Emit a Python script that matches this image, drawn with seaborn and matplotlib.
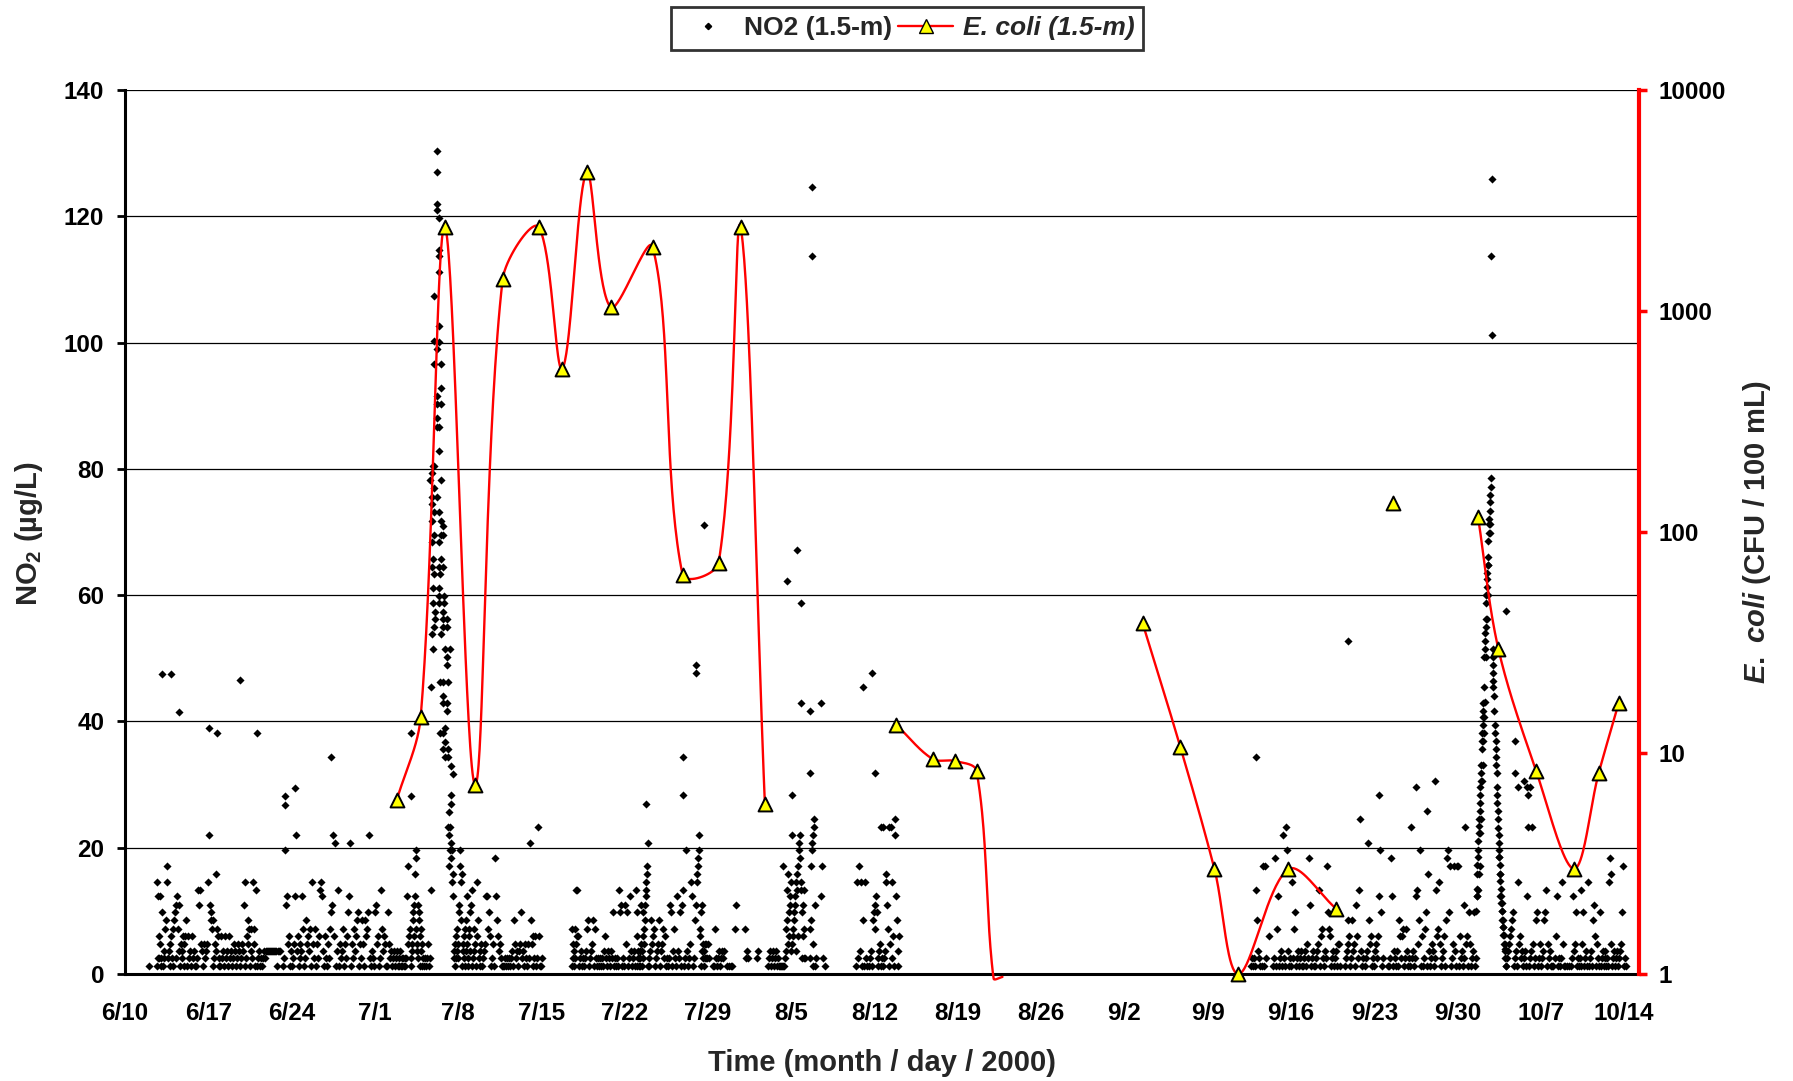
import numpy as np
import pandas as pd
import matplotlib
matplotlib.use("Agg")
import matplotlib.pyplot as plt
import seaborn as sns
from matplotlib.lines import Line2D
from matplotlib.ticker import FixedLocator, FixedFormatter, NullLocator

# ------------------------------------------------------------------ data
# x values are days after 6/10/2000
date_labels = ["6/10", "6/17", "6/24", "7/1", "7/8", "7/15", "7/22", "7/29", "8/5",
               "8/12", "8/19", "8/26", "9/2", "9/9", "9/16", "9/23", "9/30", "10/7", "10/14"]

# NO2 readings are quantised; each character of a day string is one reading (in time order,
# evenly spread over that day) given as an index into no2_levels; '.' = no reading
no2_levels = [1.2, 2.5, 3.7, 4.7, 6.0, 7.2, 8.5, 9.8, 11.0, 12.3,
              13.3, 14.6, 15.8, 17.1, 18.3, 19.6, 20.8, 22.0, 23.3, 24.5]
level_codes = "0123456789abcdefghij"

no2_daily = [
    "", "",
    "0...............b0914193",
    "01701256bd120341",
    "0567819528031240",
    "346041204120",
    "01a8a3203123",
    "bh867506132c5401",
    "041204120412",
    "013201320132",
    "8b0143650251b350",
    "a01201012122",
    "222222222022",
    "2..01f893402",
    "0139h2403129",
    "501634250b31",
    "50314ab92041",
    "031578h4g02a",
    "03125031479g",
    "031524670316",
    "306457h10210",
    "783401a52430",
    "073120120120",
    "012010101019d345",
    "012367849cef523816704523",
    "010101301a..",
    "",
    "....ihdfigefb9c120341523",
    "187fd6bc0234150269310452",
    "78a015230b461023",
    "012399574013",
    "0e9642310001",
    "010101206312",
    "023712031031",
    "g63401401i40",
    "01..........",
    "",
    ".............051320513a4",
    "a40120101256",
    "012360510101",
    "010241021021",
    "701010a78010",
    "83701920120a",
    "7041201201382074135689abcdg0",
    "012634501236",
    "023514010187",
    "02510921708a",
    "01f2013b9016",
    "8bcdehf45708231023131.1.",
    "31...0051012",
    "01212..0.0.0",
    "0..58.......",
    ".5121.......",
    ".12.........",
    ".01201201201",
    "0.0.0.0d0.0.1256ac34789b",
    "23h456789b2acd4fgehba718",
    "451a1...........156dfg03hij8",
    "01....9d1.0.",
    "", "",
    ".....0b1d2b0",
    "60b10.012067",
    "58970123i01i012b",
    "c85i03i1b40hj962",
    "04..........",
    "", "", "", "", "", "", "", "", "", "", "", "", "", "",
    "", "", "", "", "", "", "", "", "", "", "", "", "", "",
    "........0101",
    "0a6210.0d0d1",
    "..4...01e059",
    "0120h10if201",
    "0b1570120120",
    "012031e80120",
    "0123a0451021",
    "d75401201203",
    "30....012634",
    "016230841aj2",
    "01.012g63401",
    "023149f701..",
    "..001e902102",
    "064145015201",
    "0i12019a36f0",
    "401570c20132",
    "01a45b301240",
    "6ef7d013d20d",
    "d0412081i340",
    "730127019acd",
    "", "",
    ".01234567012",
    "0b341201209i",
    "012i30167013",
    "01267a031200",
    "0.1490101b30",
    "0.0.0.019237",
    "0101a0370120",
    "b01206840310",
    "7012012010bec3",
    "01201201237d",
    "010.........",
]

# individual NO2 readings (higher values / episode peaks)
no2_peak_day = [
    3.08, 3.85, 4.5, 9.7, 11.06, 7.03, 7.7, 13.45, 13.45, 14.29, 17.28, 24.03, 24.03,
    26.19, 26.19, 26.19, 26.19, 26.36, 26.36, 26.36, 26.36, 26.0, 26.36, 26.36, 26.0, 26.19, 26.0,
    26.55, 26.55, 26.19, 26.19, 26.55, 26.19, 26.19, 26.36, 26.36, 25.9, 26.0, 25.8, 25.63, 26.55,
    26.0, 25.8, 26.19, 25.8, 26.0, 26.36, 25.8, 26.55, 26.7, 26.0, 26.55, 26.7, 25.8, 26.36, 25.9,
    26.55, 25.8, 26.36, 26.7, 26.0, 26.47, 25.9, 26.36, 26.36, 26.8,
    25.86, 26.42, 26.81, 26.05, 26.75, 26.05, 26.75, 27.03, 26.0, 26.75, 27.03, 25.77, 26.56, 25.86,
    26.89, 27.31, 27.03, 27.03, 25.69, 26.47, 26.75, 27.17, 26.7, 26.7, 27.03, 27.03, 26.89, 26.47,
    26.75, 26.89, 26.7, 27.17, 26.89, 27.17, 27.37, 27.54, 27.37, 27.37, 27.2,
    43.8, 46.9, 46.9, 48.0, 48.0, 48.7,
    55.6, 56.5, 56.8, 56.1, 57.6, 57.6, 56.8, 58.5, 57.7, 57.7,
    62.0, 62.8, 63.0,
    95.1, 102.8, 105.4, 108.5, 109.4, 110.1,
    113.55, 113.6, 113.62, 113.65, 113.67, 113.7, 113.72, 113.75, 113.77, 113.8, 113.82, 113.85,
    113.87, 113.9, 113.92, 113.95, 113.97, 114.0, 114.02, 114.05, 114.07, 114.1, 114.12, 114.15,
    114.17, 114.2, 114.25, 114.27, 114.3, 114.32, 114.35, 114.37, 114.4, 114.42, 114.45, 114.47,
    114.5, 114.52, 114.55, 114.6, 114.62, 114.65, 114.67, 114.7, 114.72, 114.75, 114.77, 114.8,
    113.9, 113.95, 114.05, 114.1, 114.15, 114.2, 114.22, 114.3, 114.35, 114.45, 114.55, 114.6,
    114.7, 114.75,
    114.9, 114.85, 114.9,
    114.95, 115.0, 115.0, 114.98, 115.0, 115.02, 115.05, 115.1, 115.15, 115.18, 115.2, 115.22,
    115.25, 115.3, 115.32, 115.35, 115.38, 115.4, 115.42, 115.45, 115.47, 115.5, 115.52, 115.55,
    115.58, 115.6, 115.62, 115.65, 115.68, 115.7, 115.75, 115.8, 115.85, 115.9, 115.95, 116.0,
    116.05,
    115.45, 115.55, 115.6, 115.7, 115.75, 115.8, 115.85, 115.9, 115.95, 116.0, 115.3, 115.25,
    116.1, 116.8, 116.8, 117.1, 117.6, 117.8, 118.1, 117.9,
]
no2_peak_value = [
    47.5, 47.5, 41.5, 46.5, 38.1, 39.0, 38.1, 28.2, 26.8, 29.5, 34.3, 38.1, 28.2,
    130.4, 127.0, 121.9, 121.0, 119.7, 114.6, 113.7, 111.1, 107.3, 102.6, 100.1, 100.3, 99.0, 96.6,
    96.6, 92.8, 91.5, 90.2, 90.2, 88.0, 86.7, 86.7, 82.9, 80.4, 80.4, 79.4, 78.2, 78.2,
    76.9, 75.6, 75.6, 74.4, 73.1, 73.1, 71.8, 71.8, 70.9, 69.6, 69.6, 69.6, 68.4, 68.4, 65.8,
    65.8, 64.5, 64.5, 64.5, 63.3, 63.3, 61.1, 61.1, 59.8, 59.8,
    58.7, 58.7, 58.7, 57.4, 57.4, 56.2, 56.2, 56.2, 55.0, 55.0, 55.0, 53.9, 53.9, 51.4,
    51.4, 51.4, 50.2, 48.9, 45.4, 46.3, 46.3, 46.3, 44.1, 42.9, 42.9, 41.6, 39.0, 38.1,
    38.1, 36.8, 35.6, 35.6, 34.3, 34.3, 33.0, 31.7, 28.3, 26.9, 25.7,
    27.0, 34.3, 28.3, 48.9, 47.6, 71.1,
    62.3, 67.2, 58.8, 28.3, 31.8, 41.6, 42.9, 42.9, 124.6, 113.7,
    45.4, 47.7, 31.8,
    34.3, 52.8, 28.3, 29.6, 25.8, 30.5,
    9.9, 12.4, 13.4, 15.9, 17.2, 18.5, 19.7, 21.0, 22.3, 23.5, 24.5, 25.8,
    27.1, 28.3, 29.6, 30.5, 31.8, 33.1, 35.6, 36.9, 38.1, 39.4, 40.7, 41.6,
    42.9, 45.4, 50.2, 51.5, 52.8, 54.0, 55.0, 56.2, 58.8, 60.0, 61.3, 62.6,
    63.5, 64.8, 66.1, 68.6, 69.9, 71.2, 72.1, 73.4, 74.7, 75.9, 77.2, 78.6,
    22.3, 24.5, 30.5, 33.1, 36.9, 38.1, 40.7, 43.0, 50.2, 56.2, 60.0, 64.8,
    69.9, 71.2,
    125.9, 113.7, 101.2,
    51.5, 50.2, 48.9, 47.6, 46.4, 45.4, 44.1, 41.6, 39.4, 38.1, 35.6, 34.4,
    33.1, 29.6, 28.3, 27.1, 25.8, 24.5, 23.2, 22.0, 20.7, 19.7, 18.5, 17.2,
    15.9, 14.7, 13.4, 12.4, 11.2, 9.9, 8.6, 7.4, 6.1, 4.8, 3.9, 2.6,
    1.2,
    18.5, 15.9, 12.4, 11.2, 9.9, 8.6, 7.4, 6.1, 4.8, 3.7, 31.8, 36.9,
    57.5, 36.9, 31.8, 29.6, 30.5, 29.6, 29.6, 28.3,
]

# E. coli (CFU / 100 mL); NaN = break in the line; values below 1 are off the log scale
ecoli_day = [22.83, 24.85, 26.89, 29.41, 31.74, 34.76, 36.75, 38.8, 40.81, 44.34, 46.86,
             49.89, 51.74, 53.78, 59.0, 64.84, 67.87, 69.75, 71.57, 73.0, 73.75, 80.0,
             85.52, 88.71, 91.57, 93.58, 97.78, 101.82, 104.0, 106.6, 110.0,
             113.72, 115.43, 118.62, 121.79, 123.86, 125.54]
ecoli_cfu = [6.1, 14.5, 2400, 7.2, 1390, 2400, 548, 4240, 1040, 1950, 64.2,
             72.5, 2400, 5.9, np.nan, 13.4, 9.4, 9.2, 8.3, 0.955, 0.97, np.nan,
             38.8, 10.6, 2.98, 1.0, 2.98, 1.97, np.nan, 134.6, np.nan,
             117, 29.6, 8.25, 2.99, 8.1, 16.8]

# ------------------------------------------------------------------ prepare
rows = []
for d, s in enumerate(no2_daily):
    n = len(s)
    for k, ch in enumerate(s):
        if ch == ".":
            continue
        rows.append((d + k / n, no2_levels[level_codes.index(ch)]))
rows += list(zip(no2_peak_day, no2_peak_value))
df_no2 = pd.DataFrame(rows, columns=["day", "no2"])

df_ec = pd.DataFrame({"day": ecoli_day, "cfu": ecoli_cfu})

PX_DAY = 11.9      # screen pixels per day
PX_DEC = 220.75    # screen pixels per decade of the log axis


def excel_smooth(xs, ys, n=40):
    """Excel-style smoothed line: Bezier segments, control arms scaled by chord lengths
    (computed in screen space)."""
    P = np.column_stack([np.asarray(xs) * PX_DAY, np.asarray(ys) * PX_DEC])
    m = len(P)
    t = np.linspace(0, 1, n)[:, None]
    out = []
    for i in range(m - 1):
        p0 = P[i - 1] if i > 0 else P[i]
        p1, p2 = P[i], P[i + 1]
        p3 = P[i + 2] if i + 2 < m else P[i + 1]
        d01 = np.hypot(*(p1 - p0))
        d12 = np.hypot(*(p2 - p1))
        d23 = np.hypot(*(p3 - p2))
        f1 = d12 / (d01 + d12) / 3.0 if d01 + d12 > 0 else 0.0
        f2 = d12 / (d12 + d23) / 3.0 if d12 + d23 > 0 else 0.0
        c1 = p1 + (p2 - p0) * f1
        c2 = p2 - (p3 - p1) * f2
        seg = (1 - t) ** 3 * p1 + 3 * (1 - t) ** 2 * t * c1 + 3 * (1 - t) * t ** 2 * c2 + t ** 3 * p2
        out.append(seg)
    c = np.vstack(out)
    return c[:, 0] / PX_DAY, c[:, 1] / PX_DEC


# ------------------------------------------------------------------ style
sns.set_style("white")
plt.rcParams["font.family"] = ["Liberation Sans", "DejaVu Sans"]
plt.rcParams["font.weight"] = "bold"
plt.rcParams["mathtext.fontset"] = "custom"
plt.rcParams["mathtext.rm"] = "Liberation Sans:bold"
plt.rcParams["mathtext.bf"] = "Liberation Sans:bold"
plt.rcParams["mathtext.it"] = "Liberation Sans:bold:italic"

W, H = 1793, 1081
fig = plt.figure(figsize=(W / 100, H / 100), dpi=100)
x0, x1, y0, y1 = 125, 1639, 90, 974
ax = fig.add_axes([x0 / W, 1 - y1 / H, (x1 - x0) / W, (y1 - y0) / H])
ax.set_facecolor("white")

# NO2 scatter
sns.scatterplot(data=df_no2, x="day", y="no2", ax=ax, marker="D", s=17, color="black",
                linewidth=0, legend=False, zorder=3)

ax.set_xlim(0, 127.25)
ax.set_ylim(0, 140)
ax.set_yticks(np.arange(0, 141, 20))
ax.xaxis.set_major_locator(FixedLocator(np.arange(0, 127, 7)))
ax.xaxis.set_major_formatter(FixedFormatter(date_labels))
ax.yaxis.grid(True, color="black", linewidth=0.9)
ax.xaxis.grid(False)
ax.set_axisbelow(True)
for side in ["top", "right"]:
    ax.spines[side].set_visible(False)
for side in ["left", "bottom"]:
    ax.spines[side].set_color("black")
    ax.spines[side].set_linewidth(2.2)
ax.tick_params(axis="y", direction="out", length=6, width=2, labelsize=17.5, pad=9, colors="black")
ax.tick_params(axis="x", direction="out", length=6, width=2, labelsize=17.5, pad=14, colors="black")

ax.set_xlabel("Time (month / day / 2000)", fontsize=21, fontweight="bold")
ax.xaxis.set_label_coords((882 - x0) / (x1 - x0), (y1 - 1063) / (y1 - y0))
ax.xaxis.label.set_va("center")
ax.set_ylabel(r"NO$_\mathrm{2}$ (µg/L)", fontsize=21, fontweight="bold")
ax.yaxis.set_label_coords((29 - x0) / (x1 - x0), (y1 - 534) / (y1 - y0))
ax.yaxis.label.set_va("center")

# E. coli on log axis
ax2 = ax.twinx()
ax2.set_yscale("log")
ax2.set_ylim(1, 10000)
ax2.set_xlim(0, 127.25)
vals = df_ec["cfu"].to_numpy()
days = df_ec["day"].to_numpy()
seg_x, seg_y = [], []
for xv, yv in zip(list(days) + [np.nan], list(vals) + [np.nan]):
    if np.isfinite(yv):
        seg_x.append(xv)
        seg_y.append(np.log10(yv))
    else:
        if len(seg_x) >= 2:
            cx, cy = excel_smooth(seg_x, seg_y)
            ax2.plot(cx, 10 ** cy, color="red", lw=1.7, zorder=4, clip_on=False)
        seg_x, seg_y = [], []

mk = df_ec[df_ec["cfu"] >= 1]
sns.scatterplot(data=mk, x="day", y="cfu", ax=ax2, marker="^", s=100, color="#FFFF00",
                edgecolor="black", linewidth=1.4, legend=False, zorder=5, clip_on=False)

ax2.yaxis.set_major_locator(FixedLocator([1, 10, 100, 1000, 10000]))
ax2.yaxis.set_major_formatter(FixedFormatter(["1", "10", "100", "1000", "10000"]))
ax2.yaxis.set_minor_locator(NullLocator())
for side in ["top", "left", "bottom"]:
    ax2.spines[side].set_visible(False)
ax2.spines["right"].set_color("red")
ax2.spines["right"].set_linewidth(3)
ax2.tick_params(axis="y", which="major", direction="out", length=6, width=2.5, color="red",
                labelcolor="black", labelsize=17.5, pad=8)
ax2.set_xlabel("")
ax2.set_ylabel(r"$\mathit{E.\ coli}$ (CFU / 100 mL)", fontsize=21, fontweight="bold")
ax2.yaxis.set_label_coords((1757 - x0) / (x1 - x0), (y1 - 532) / (y1 - y0))
ax2.yaxis.label.set_va("center")
ax2.grid(False)

# legend
h1 = Line2D([], [], marker="D", color="black", linestyle="None", markersize=3.2)
h2 = Line2D([], [], marker="^", color="red", lw=1.7, markerfacecolor="#FFFF00",
            markeredgecolor="black", markersize=10)
leg = fig.legend([h1, h2], ["NO2 (1.5-m)", "E. coli (1.5-m)"], loc="center",
                 bbox_to_anchor=(907 / W, 1 - 28.5 / H), ncol=2, frameon=True, fancybox=False,
                 edgecolor="black", prop={"size": 19, "weight": "bold"}, handlelength=2.1,
                 columnspacing=0.2, handletextpad=0.35, borderpad=0.35, borderaxespad=0.2)
leg.get_frame().set_linewidth(2)
leg.get_texts()[1].set_fontstyle("italic")

fig.savefig("out.png", dpi=100)
